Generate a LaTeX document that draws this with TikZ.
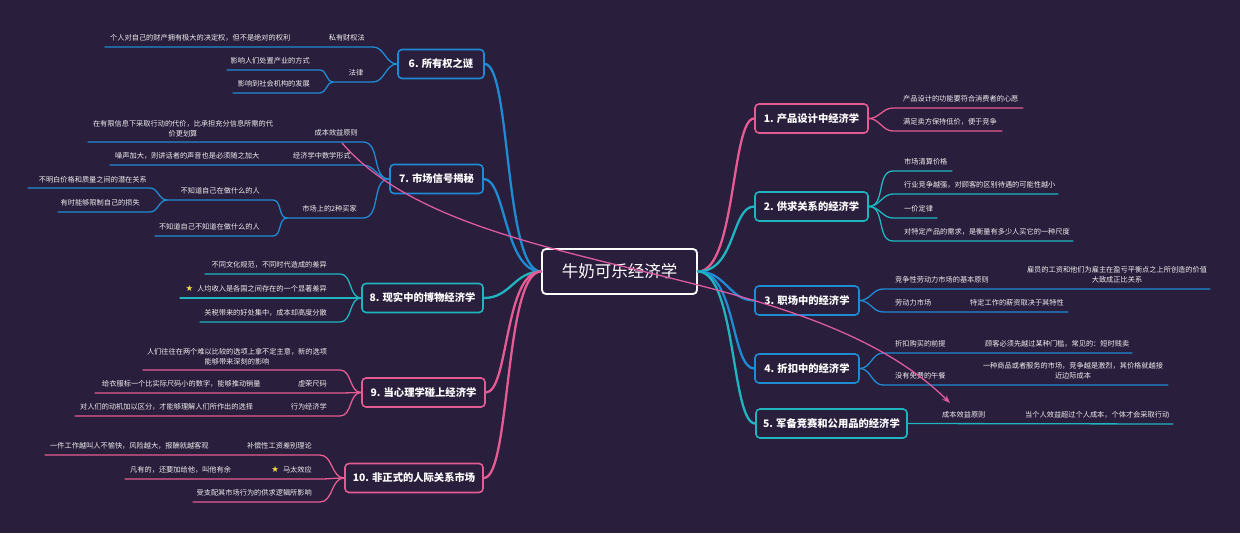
\documentclass[tikz,border=0pt]{standalone}
\usepackage{fontspec}
\usetikzlibrary{arrows.meta}
\newfontfamily\cjk{Noto Sans CJK SC}
\newfontfamily\symf{DejaVu Sans}
\definecolor{bg}{HTML}{2A1E3D}
\definecolor{pinkc}{HTML}{E45C93}
\definecolor{tealc}{HTML}{1FB5BF}
\definecolor{bluec}{HTML}{1E8BD2}
\definecolor{relc}{HTML}{DC5AA0}
\definecolor{txt}{HTML}{EEEEEE}
\definecolor{stary}{HTML}{F5E04A}
\newcommand{\starmark}{{\symf\fontsize{8.5}{10}\selectfont\textcolor{stary}{★}}\hspace{4pt}}
\tikzset{
  root/.style={draw=white, line width=1.8pt, rounded corners=4pt, minimum width=155pt, minimum height=45pt, inner sep=2pt, text=white, font=\cjk\fontsize{16.5}{18}\selectfont},
  box/.style={line width=1.6pt, rounded corners=4pt, minimum height=29pt, inner sep=2pt, text=white, font=\cjk\bfseries\fontsize{10.3}{12}\selectfont},
  lbl/.style={inner sep=0pt, text=txt, font=\cjk\fontsize{7.2}{10}\selectfont},
  br/.style={line width=2.3pt, line cap=round},
  sub/.style={line width=1.3pt, line cap=round},
  rel/.style={draw=relc, line width=1.3pt, -{Stealth[length=8pt,width=6pt]}}
}
\begin{document}
\begin{tikzpicture}[x=1pt,y=-1pt]
\fill[bg] (0,0) rectangle (1240,533);
\useasboundingbox (0,0) rectangle (1240,533);

% root and main boxes
\node[root] (root) at (619.5,271.5) {牛奶可乐经济学};
\node[box, draw=pinkc, minimum width=113pt] (b1) at (811.5,118.5) {1. 产品设计中经济学};
\node[box, draw=tealc, minimum width=113pt] (b2) at (811.5,206.5) {2. 供求关系的经济学};
\node[box, draw=bluec, minimum width=104pt] (b3) at (807,300.5) {3. 职场中的经济学};
\node[box, draw=bluec, minimum width=104pt] (b4) at (807,368.5) {4. 折扣中的经济学};
\node[box, draw=tealc, minimum width=151pt] (b5) at (831.5,423.5) {5. 军备竞赛和公用品的经济学};
\node[box, draw=bluec, minimum width=86pt] (b6) at (441,64) {6. 所有权之谜};
\node[box, draw=bluec, minimum width=93pt] (b7) at (436.5,179) {7. 市场信号揭秘};
\node[box, draw=tealc, minimum width=121pt] (b8) at (422.5,298) {8. 现实中的博物经济学};
\node[box, draw=pinkc, minimum width=123pt] (b9) at (423.5,392.5) {9. 当心理学碰上经济学};
\node[box, draw=pinkc, minimum width=138pt] (b10) at (414,478) {10. 非正式的人际关系市场};

% main branches
\draw[br, bluec] (b6.east) .. controls +(26,0) and +(-37,0) .. (root.west);
\draw[br, bluec] (b7.east) .. controls +(22,0) and +(-37,0) .. (root.west);
\draw[br, tealc] (b8.east) .. controls +(27,0) and +(-27,0) .. (root.west);
\draw[br, pinkc] (b9.east) .. controls +(23,0) and +(-37,0) .. (root.west);
\draw[br, pinkc] (b10.east) .. controls +(27,0) and +(-37,0) .. (root.west);
\draw[br, pinkc] (root.east) .. controls +(38,0) and +(-23,0) .. (b1.west);
\draw[br, tealc] (root.east) .. controls +(38,0) and +(-23,0) .. (b2.west);
\draw[br, bluec] (root.east) .. controls +(28,0) and +(-25,0) .. (b3.west);
\draw[br, bluec] (root.east) .. controls +(38,0) and +(-23,0) .. (b4.west);
\draw[br, tealc] (root.east) .. controls +(38,0) and +(-24,0) .. (b5.west);

% ---- branch 1
\coordinate (u11a) at (893,108); \coordinate (u11b) at (1023,108);
\coordinate (u12a) at (893,131); \coordinate (u12b) at (1002,131);
\draw[sub, pinkc] (b1.east) to[out=0,in=180] (u11a) -- (u11b);
\draw[sub, pinkc] (b1.east) to[out=0,in=180] (u12a) -- (u12b);
\node[lbl, anchor=west] (c11) at (903,98.5) {产品设计的功能要符合消费者的心愿};
\node[lbl, anchor=west] (c12) at (903,122) {满足卖方保持低价，便于竞争};

% ---- branch 2
\coordinate (u21a) at (893,171); \coordinate (u21b) at (952,171);
\coordinate (u22a) at (893,194); \coordinate (u22b) at (1058,194);
\coordinate (u23a) at (893,218); \coordinate (u23b) at (937,218);
\coordinate (u24a) at (893,241); \coordinate (u24b) at (1073,241);
\foreach \k in {1,2,3,4}{\draw[sub, tealc] (b2.east) to[out=0,in=180] (u2\k a) -- (u2\k b);}
\node[lbl, anchor=west] (c21) at (904,162) {市场清算价格};
\node[lbl, anchor=west] (c22) at (904,185) {行业竞争越强，对顾客的区别待遇的可能性越小};
\node[lbl, anchor=west] (c23) at (904,209) {一价定律};
\node[lbl, anchor=west] (c24) at (904,232) {对特定产品的需求，是衡量有多少人买它的一种尺度};

% ---- branch 3
\coordinate (u31a) at (883,289); \coordinate (u31b) at (1210,289);
\coordinate (u32a) at (883,312); \coordinate (u32b) at (1068,312);
\draw[sub, bluec] (b3.east) to[out=0,in=180] (u31a) -- (u31b);
\draw[sub, bluec] (b3.east) to[out=0,in=180] (u32a) -- (u32b);
\node[lbl, anchor=west] (c31) at (895,280) {竞争性劳动力市场的基本原则};
\node[lbl, align=center] (g31) at (1117,275) {雇员的工资和他们为雇主在盈亏平衡点之上所创造的价值\\大致成正比关系};
\node[lbl, anchor=west] (c32) at (895,303) {劳动力市场};
\node[lbl, anchor=west] (g32) at (970,303) {特定工作的薪资取决于其特性};

% ---- branch 4
\coordinate (u41a) at (883,353); \coordinate (u41b) at (1132,353);
\coordinate (u42a) at (883,385); \coordinate (u42b) at (1168,385);
\draw[sub, bluec] (b4.east) to[out=0,in=180] (u41a) -- (u41b);
\draw[sub, bluec] (b4.east) to[out=0,in=180] (u42a) -- (u42b);
\node[lbl, anchor=west] (c41) at (895,343.5) {折扣购买的前提};
\node[lbl, anchor=west] (g41) at (985,343.5) {顾客必须先越过某种门槛，常见的：短时贱卖};
\node[lbl, anchor=west] (c42) at (895,376) {没有免费的午餐};
\node[lbl, align=center] (g42) at (1073,371) {一种商品或者服务的市场，竞争越是激烈，其价格就越接\\近边际成本};

% ---- branch 5
\coordinate (u51b) at (1173,424);
\draw[sub, tealc] (b5.east) -- (u51b);
\node[lbl, anchor=west] (c51) at (942,415) {成本效益原则};
\node[lbl, anchor=west] (g51) at (1025,415) {当个人效益超过个人成本，个体才会采取行动};

% ---- branch 6
\coordinate (u61a) at (373,47); \coordinate (u61b) at (105,47);
\coordinate (u62a) at (373,82); \coordinate (u62b) at (333,82);
\coordinate (u63a) at (320,70); \coordinate (u63b) at (227,70);
\coordinate (u64a) at (320,93); \coordinate (u64b) at (233,93);
\draw[sub, bluec] (b6.west) to[out=180,in=0] (u61a) -- (u61b);
\draw[sub, bluec] (b6.west) to[out=180,in=0] (u62a) -- (u62b);
\draw[sub, bluec] (u62b) to[out=180,in=0] (u63a) -- (u63b);
\draw[sub, bluec] (u62b) to[out=180,in=0] (u64a) -- (u64b);
\node[lbl, anchor=east] (c61) at (365,38) {私有财权法};
\node[lbl, anchor=west] (g61) at (110,38) {个人对自己的财产拥有极大的决定权，但不是绝对的权利};
\node[lbl] (c62) at (356,73) {法律};
\node[lbl, anchor=east] (g62) at (310,61) {影响人们处置产业的方式};
\node[lbl, anchor=east] (g63) at (310,84) {影响到社会机构的发展};

% ---- branch 7
\coordinate (u71a) at (363,142); \coordinate (u71b) at (88,142);
\coordinate (u72a) at (363,165); \coordinate (u72b) at (110,165);
\coordinate (u73a) at (363,218); \coordinate (u73b) at (287,218);
\coordinate (u74a) at (273,200); \coordinate (u74b) at (167,200);
\coordinate (u75a) at (150,188); \coordinate (u75b) at (28,188);
\coordinate (u76a) at (150,212); \coordinate (u76b) at (58,212);
\coordinate (u77a) at (273,236); \coordinate (u77b) at (155,236);
\draw[sub, bluec] (b7.west) to[out=180,in=0] (u71a) -- (u71b);
\draw[sub, bluec] (b7.west) to[out=180,in=0] (u72a) -- (u72b);
\draw[sub, bluec] (b7.west) to[out=180,in=0] (u73a) -- (u73b);
\draw[sub, bluec] (u73b) to[out=180,in=0] (u74a) -- (u74b);
\draw[sub, bluec] (u73b) to[out=180,in=0] (u77a) -- (u77b);
\draw[sub, bluec] (u74b) to[out=180,in=0] (u75a) -- (u75b);
\draw[sub, bluec] (u74b) to[out=180,in=0] (u76a) -- (u76b);
\node[lbl, anchor=east] (c71) at (358,133) {成本效益原则};
\node[lbl, align=center] (g71) at (183,129) {在有限信息下采取行动的代价，比承担充分信息所需的代\\价更划算};
\node[lbl, anchor=east] (c72) at (351,156) {经济学中数学形式};
\node[lbl, anchor=west] (g72) at (115,156) {噪声加大，则讲话者的声音也是必须随之加大};
\node[lbl, anchor=east] (c73) at (357,209) {市场上的2种买家};
\node[lbl, anchor=east] (g73) at (260,191) {不知道自己在做什么的人};
\node[lbl, anchor=east] (h71) at (147,180) {不明白价格和质量之间的潜在关系};
\node[lbl, anchor=east] (h72) at (140,203) {有时能够限制自己的损失};
\node[lbl, anchor=east] (g74) at (260,227) {不知道自己不知道在做什么的人};

% ---- branch 8
\coordinate (u81a) at (340,274); \coordinate (u81b) at (205,274);
\coordinate (u82a) at (340,298); \coordinate (u82b) at (180,298);
\coordinate (u83a) at (340,322); \coordinate (u83b) at (200,322);
\foreach \k in {1,2,3}{\draw[sub, tealc] (b8.west) to[out=180,in=0] (u8\k a) -- (u8\k b);}
\node[lbl, anchor=east] (c81) at (327,265) {不同文化规范，不同时代造成的差异};
\node[lbl, anchor=east] (c82) at (327,289) {\starmark 人均收入是各国之间存在的一个显著差异};
\node[lbl, anchor=east] (c83) at (327,313) {关税带来的好处集中，成本却高度分散};

% ---- branch 9
\coordinate (u91a) at (340,370); \coordinate (u91b) at (143,370);
\coordinate (u92a) at (340,393); \coordinate (u92b) at (95,393);
\coordinate (u93a) at (340,416); \coordinate (u93b) at (75,416);
\foreach \k in {1,2,3}{\draw[sub, pinkc] (b9.west) to[out=180,in=0] (u9\k a) -- (u9\k b);}
\node[lbl, align=center] (c91) at (237,356.5) {人们往往在两个难以比较的选项上拿不定主意，新的选项\\能够带来深刻的影响};
\node[lbl, anchor=east] (c92) at (327,384) {虚荣尺码};
\node[lbl, anchor=west] (g92) at (102,384) {给衣服标一个比实际尺码小的数字，能够推动销量};
\node[lbl, anchor=east] (c93) at (327,407) {行为经济学};
\node[lbl, anchor=west] (g93) at (80,407) {对人们的动机加以区分，才能够理解人们所作出的选择};

% ---- branch 10
\coordinate (u101a) at (320,455); \coordinate (u101b) at (45,455);
\coordinate (u102a) at (320,479); \coordinate (u102b) at (125,479);
\coordinate (u103a) at (320,502); \coordinate (u103b) at (193,502);
\foreach \k in {1,2,3}{\draw[sub, pinkc] (b10.west) to[out=180,in=0] (u10\k a) -- (u10\k b);}
\node[lbl, anchor=east] (c101) at (312,446) {补偿性工资差别理论};
\node[lbl, anchor=west] (g101) at (50,446) {一件工作越叫人不愉快，风险越大，报酬就越客观};
\node[lbl, anchor=east] (c102) at (312,470) {\starmark 马太效应};
\node[lbl, anchor=west] (g102) at (130,470) {凡有的，还要加给他，叫他有余};
\node[lbl, anchor=east] (c103) at (312,493) {受支配其市场行为的供求逻辑所影响};

% relationship
\coordinate (rs) at (342,143);
\coordinate (re) at (950,403);
\draw[rel] (rs) .. controls (462,282) and (800,255) .. (re);
\end{tikzpicture}
\end{document}
